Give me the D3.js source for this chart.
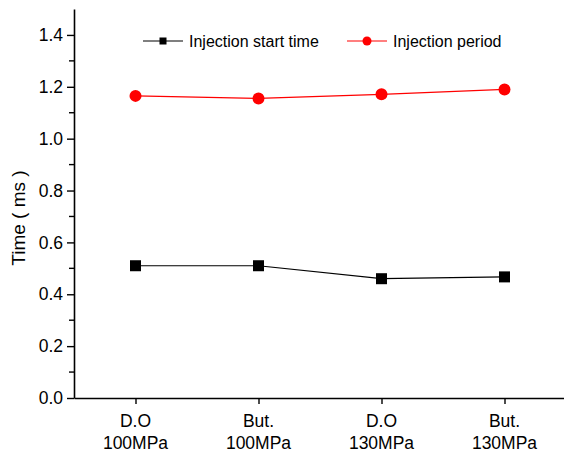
<!DOCTYPE html>
<meta charset="utf-8">
<script src="https://d3js.org/d3.v7.min.js"></script>
<style>
  body { margin: 0; background: #fff; }
  text { font-family: "Liberation Sans", Arial, sans-serif; fill: #000; }
</style>
<div id="chart"></div>
<script>
// data
var fuels = ["D.O", "But.", "D.O", "But."];
var pressures = ["100MPa", "100MPa", "130MPa", "130MPa"];
var startTime = [0.51, 0.51, 0.46, 0.467];
var period = [1.165, 1.155, 1.171, 1.19];
var yTicks = [0, 0.2, 0.4, 0.6, 0.8, 1.0, 1.2, 1.4];
var yMinor = [0.1, 0.3, 0.5, 0.7, 0.9, 1.1, 1.3];

var W = 564, H = 454;
var svg = d3.select("#chart").append("svg")
    .attr("width", W)
    .attr("height", H);

// scales
var x = d3.scaleLinear().domain([0.5, 4.5]).range([74, 566]);
var y = d3.scaleLinear().domain([0, 1.5]).range([398, 9]);

// y axis
svg.append("g")
  .attr("transform", "translate(74,0)")
  .call(d3.axisLeft(y).tickValues(yTicks).tickFormat(d3.format(".1f")).tickSize(7).tickPadding(4).tickSizeOuter(0))
  .call(function(g) {
    g.select(".domain").attr("stroke-width", 1.6);
    g.selectAll(".tick line").attr("stroke-width", 1.4);
    g.selectAll("text").style("font-size", "17.5px").attr("fill", "#000");
  });

// minor ticks
svg.append("g")
  .selectAll("line")
  .data(yMinor)
  .enter()
  .append("line")
    .attr("x1", 69).attr("x2", 74)
    .attr("y1", function(d) { return y(d); })
    .attr("y2", function(d) { return y(d); })
    .attr("stroke", "#000")
    .attr("stroke-width", 1.4);

// x axis
var xAxis = svg.append("g")
  .attr("transform", "translate(0,398)")
  .call(d3.axisBottom(x).tickValues([1, 2, 3, 4]).tickFormat("").tickSize(6).tickSizeOuter(0));
xAxis.select(".domain").attr("stroke-width", 1.6);
xAxis.selectAll(".tick line").attr("stroke-width", 1.4);

var lab = svg.append("g").selectAll("text")
  .data(fuels)
  .enter()
  .append("text")
    .attr("x", function(d, i) { return x(i + 1); })
    .attr("y", 427)
    .attr("text-anchor", "middle")
    .style("font-size", "17.5px");
lab.append("tspan").text(function(d) { return d; });
lab.append("tspan")
  .attr("x", function(d, i) { return x(i + 1); })
  .attr("dy", 22)
  .text(function(d, i) { return pressures[i]; });

// y label
svg.append("text")
  .attr("transform", "translate(25," + 218 + ") rotate(-90)")
  .attr("text-anchor", "middle")
  .style("font-size", "19px")
  .text("Time ( ms )");

var line = d3.line()
  .x(function(d, i) { return x(i + 1); })
  .y(function(d) { return y(d); });

// start time series
svg.append("path")
  .datum(startTime)
  .attr("d", line)
  .attr("fill", "none")
  .attr("stroke", "#000")
  .attr("stroke-width", 1.2);
svg.selectAll(".sq")
  .data(startTime)
  .enter()
  .append("rect")
    .attr("x", function(d, i) { return x(i + 1) - 5.5; })
    .attr("y", function(d) { return y(d) - 5.5; })
    .attr("width", 11)
    .attr("height", 11)
    .attr("fill", "#000");

// period series
svg.append("path")
  .datum(period)
  .attr("d", line)
  .attr("fill", "none")
  .attr("stroke", "#f00")
  .attr("stroke-width", 1.2);
svg.selectAll(".dot")
  .data(period)
  .enter()
  .append("circle")
    .attr("cx", function(d, i) { return x(i + 1); })
    .attr("cy", function(d) { return y(d); })
    .attr("r", 6)
    .attr("fill", "#f00");

// legend
var leg = svg.append("g");
leg.append("line").attr("x1", 143).attr("x2", 183).attr("y1", 41).attr("y2", 41)
  .attr("stroke", "#000").attr("stroke-width", 1.2);
leg.append("rect").attr("x", 159.5).attr("y", 37.5).attr("width", 7).attr("height", 7).attr("fill", "#000");
leg.append("text").attr("x", 189).attr("y", 47).style("font-size", "16px").text("Injection start time");

leg.append("line").attr("x1", 347).attr("x2", 387).attr("y1", 41).attr("y2", 41)
  .attr("stroke", "#f00").attr("stroke-width", 1.2);
leg.append("circle").attr("cx", 367).attr("cy", 41).attr("r", 4.5).attr("fill", "#f00");
leg.append("text").attr("x", 393).attr("y", 47).style("font-size", "16px").text("Injection period");
</script>
